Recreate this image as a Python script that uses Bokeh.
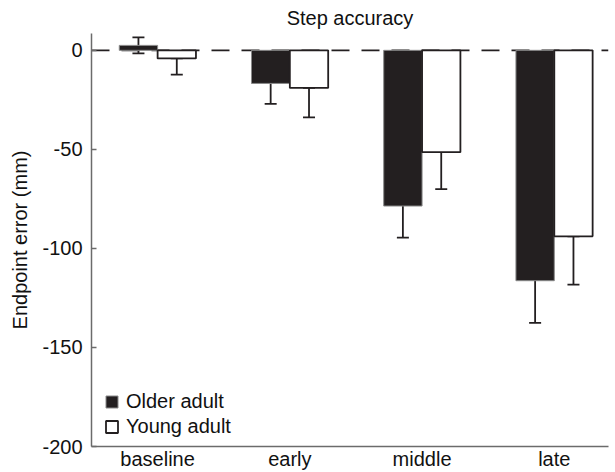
from bokeh.plotting import figure
from bokeh.models import (ColumnDataSource, Range1d, FixedTicker, Span, Whisker,
                          TeeHead, Legend, LegendItem)
from bokeh.embed import file_html
from bokeh.resources import INLINE

# ---- data ----
categories = ["baseline", "early", "middle", "late"]
older_mean = [2.5, -16.7, -78.6, -116.3]
older_err = [4.0, 10.3, 16.0, 21.3]
young_mean = [-4.1, -19.0, -51.4, -93.9]
young_err = [8.2, 14.8, 18.7, 24.4]
y_ticks = [0, -50, -100, -150, -200]

FONT = "Liberation Sans"
DARK = "#231f20"
AXIS = "#6b6b6b"
BAR_W = 0.29
OFF = 0.145

pos = list(range(1, len(categories) + 1))
older_src = ColumnDataSource(dict(
    x=[p - OFF for p in pos], top=older_mean,
    lower=[m - e for m, e in zip(older_mean, older_err)],
    upper=[m + e for m, e in zip(older_mean, older_err)]))
young_src = ColumnDataSource(dict(
    x=[p + OFF for p in pos], top=young_mean,
    lower=[m - e for m, e in zip(young_mean, young_err)],
    upper=young_mean))

p = figure(width=615, height=472, output_backend="svg", toolbar_location=None,
           x_range=Range1d(0.5, 4.41), y_range=Range1d(-200, 8.5),
           min_border_left=91, min_border_right=7, min_border_top=0,
           min_border_bottom=25)
p.outline_line_color = None
p.xgrid.visible = False
p.ygrid.visible = False
p.background_fill_color = "white"

p.title.text = "Step accuracy"
p.title.align = "center"
p.title.text_font = FONT
p.title.text_font_size = "20px"
p.title.text_font_style = "normal"
p.title.text_color = "#111111"
p.title.standoff = 9

zero = Span(location=0, dimension="width", line_color=DARK, line_width=1.6,
            line_dash="18 12", level="underlay")
p.add_layout(zero)

r_old = p.vbar(x="x", top="top", bottom=0, width=BAR_W, source=older_src,
               fill_color=DARK, line_color="#8a8a8a", line_width=1)
r_young = p.vbar(x="x", top="top", bottom=0, width=BAR_W, source=young_src,
                 fill_color="white", line_color=DARK, line_width=1.8)

for src in (older_src, young_src):
    w = Whisker(source=src, base="x", lower="lower", upper="upper",
                line_color=DARK, line_width=1.8,
                lower_head=TeeHead(size=12, line_color=DARK, line_width=1.8),
                upper_head=TeeHead(size=12, line_color=DARK, line_width=1.8))
    p.add_layout(w)

# axes
xa = p.xaxis[0]
xa.ticker = FixedTicker(ticks=pos)
xa.major_label_overrides = {p_: c for p_, c in zip(pos, categories)}
xa.major_tick_line_color = None
xa.minor_tick_line_color = None
xa.major_tick_in = 0
xa.major_tick_out = 0
xa.axis_line_color = AXIS
xa.axis_line_width = 1.5
xa.major_label_standoff = 1
xa.major_label_text_font = FONT
xa.major_label_text_font_size = "20px"
xa.major_label_text_color = "#111111"

ya = p.yaxis[0]
ya.ticker = FixedTicker(ticks=y_ticks)
ya.major_label_overrides = {t: str(t) for t in y_ticks}
ya.minor_tick_line_color = None
ya.major_tick_in = 5
ya.major_tick_out = 0
ya.major_tick_line_color = AXIS
ya.major_tick_line_width = 1.5
ya.axis_line_color = AXIS
ya.axis_line_width = 1.5
ya.major_label_standoff = 9
ya.major_label_text_font = FONT
ya.major_label_text_font_size = "20px"
ya.major_label_text_color = "#111111"
ya.axis_label = "Endpoint error (mm)"
ya.axis_label_text_font = FONT
ya.axis_label_text_font_size = "20px"
ya.axis_label_text_font_style = "normal"
ya.axis_label_text_color = "#111111"
ya.axis_label_standoff = 8

legend = Legend(items=[LegendItem(label="Older adult", renderers=[r_old]),
                       LegendItem(label="Young adult", renderers=[r_young])],
                location=(13, 8), background_fill_alpha=0, border_line_color=None,
                glyph_width=15, glyph_height=15, spacing=2, padding=0,
                label_text_font=FONT, label_text_font_size="20px",
                label_text_color="#111111", label_standoff=7)
p.add_layout(legend)

open("out.html", "w").write(file_html(p, INLINE))
